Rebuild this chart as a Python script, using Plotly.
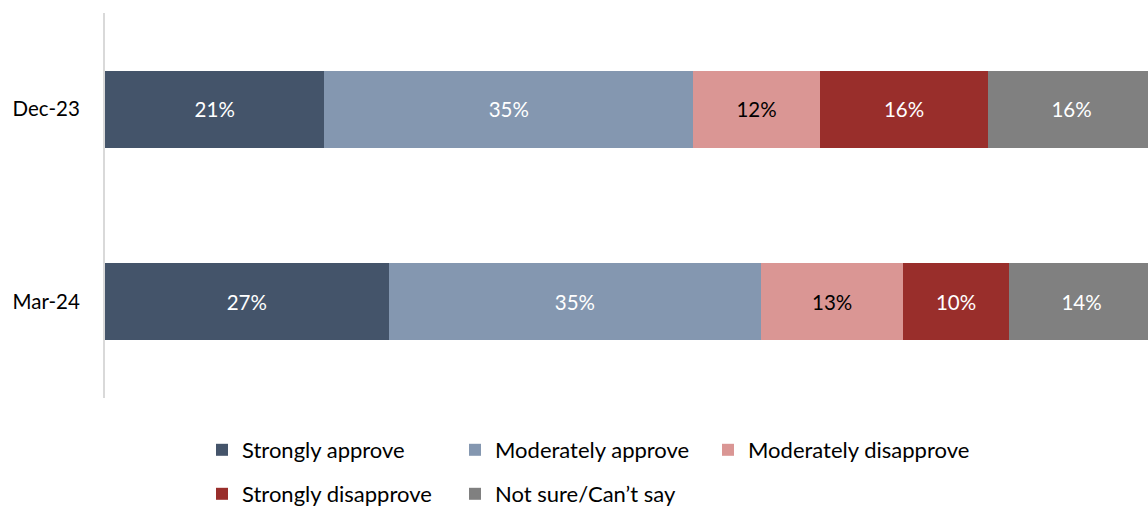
import plotly.graph_objects as go

categories = ["Dec-23", "Mar-24"]
series_names = ["Strongly approve", "Moderately approve", "Moderately disapprove",
                "Strongly disapprove", "Not sure/Can’t say"]
# values (percent)
strongly_approve = [20.9, 27.0]
moderately_approve = [35.1, 35.5]
moderately_disapprove = [12.1, 13.5]
strongly_disapprove = [16.0, 10.1]
not_sure = [15.9, 13.8]
# labels as printed
strongly_approve_lbl = ["21%", "27%"]
moderately_approve_lbl = ["35%", "35%"]
moderately_disapprove_lbl = ["12%", "13%"]
strongly_disapprove_lbl = ["16%", "10%"]
not_sure_lbl = ["16%", "14%"]

values = [strongly_approve, moderately_approve, moderately_disapprove, strongly_disapprove, not_sure]
labels = [strongly_approve_lbl, moderately_approve_lbl, moderately_disapprove_lbl,
          strongly_disapprove_lbl, not_sure_lbl]
colors = ["#44546A", "#8497B0", "#DA9694", "#992E2B", "#808080"]
text_colors = ["white", "white", "black", "white", "white"]
legend_ids = ["legend", "legend", "legend3", "legend2", "legend2"]

FONT = "Lato, 'Open Sans', sans-serif"

fig = go.Figure()
for name, v, lbl, c, tc, lg in zip(series_names, values, labels, colors, text_colors, legend_ids):
    fig.add_trace(go.Bar(
        y=categories, x=v, name=name, orientation="h",
        marker=dict(color=c, line=dict(width=0)),
        text=lbl, textposition="inside", insidetextanchor="middle",
        textangle=0, textfont=dict(color=tc, size=20.5, family=FONT),
        width=0.4, legend=lg, hoverinfo="skip",
    ))

W, H = 1148, 506
ml, mr, mt, mb = 105, 0, 13, 108
ph = H - mt - mb

def ypaper(py):
    return (H - mb - py) / ph

def xpaper(px):
    return (px - ml) / (W - ml - mr)

legend_common = dict(orientation="h", xanchor="left", yanchor="middle",
                     traceorder="normal",
                     font=dict(family=FONT, size=22, color="black"),
                     entrywidthmode="pixels",
                     bgcolor="rgba(0,0,0,0)", itemclick=False, itemdoubleclick=False)

fig.update_layout(
    width=W, height=H,
    margin=dict(l=ml, r=mr, t=mt, b=mb, pad=0, autoexpand=False),
    barmode="stack",
    plot_bgcolor="white", paper_bgcolor="white",
    font=dict(family=FONT, size=20.5, color="black"),
    bargap=0.6,
    showlegend=True,
    legend=dict(x=xpaper(202), y=ypaper(450), entrywidth=208, **legend_common),
    legend3=dict(x=xpaper(202 + 2 * 253), y=ypaper(450), entrywidth=260, **legend_common),
    legend2=dict(x=xpaper(202), y=ypaper(494), entrywidth=208, **legend_common),
    uniformtext=dict(mode=False),
)
fig.update_xaxes(range=[0, 99.33], visible=False, showgrid=False, zeroline=False, fixedrange=True)
fig.update_yaxes(categoryorder="array", categoryarray=categories, autorange="reversed",
                 showline=True, linecolor="#D9D9D9", linewidth=2, showgrid=False,
                 ticks="", ticklabelstandoff=19,
                 tickfont=dict(family=FONT, size=20.5, color="black"), fixedrange=True)

fig.write_html(
    "out.html",
    config={"displayModeBar": False},
    post_script="document.body.style.margin='0';document.body.style.overflow='hidden';",
)
